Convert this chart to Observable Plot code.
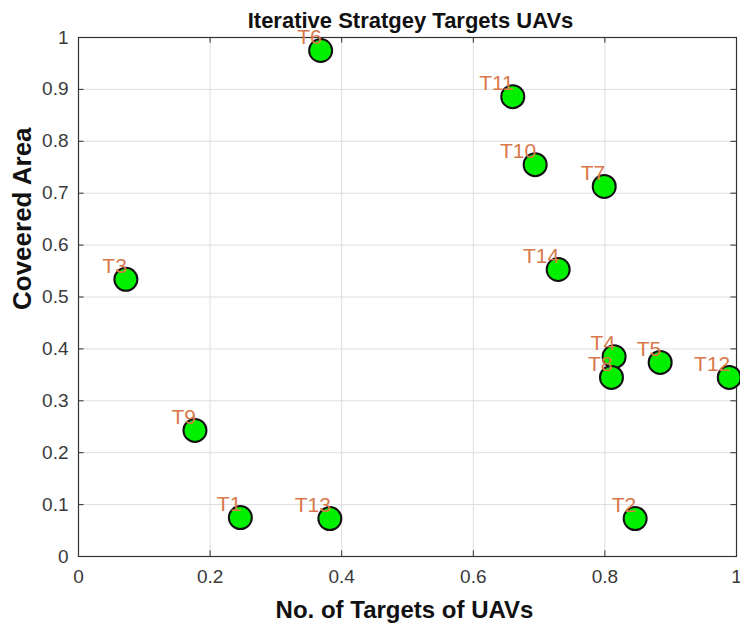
<!DOCTYPE html>
<html>
<head>
<meta charset="utf-8">
<script src="https://cdn.jsdelivr.net/npm/d3@7"></script>
<script src="https://cdn.jsdelivr.net/npm/@observablehq/plot@0.6"></script>
<style>
  html, body { margin: 0; padding: 0; background: white; }
</style>
</head>
<body>
<div id="chart"></div>
<script>
const names = ["T1","T2","T3","T4","T5","T6","T7","T8","T9","T10","T11","T12","T13","T14"];
const xValues = [0.246, 0.846, 0.072, 0.814, 0.884, 0.368, 0.799, 0.810, 0.177, 0.694, 0.660, 0.989, 0.382, 0.729];
const yValues = [0.075, 0.073, 0.534, 0.385, 0.374, 0.975, 0.713, 0.345, 0.243, 0.755, 0.886, 0.345, 0.073, 0.553];
const xTicks = [0, 0.2, 0.4, 0.6, 0.8, 1];
const xTickLabels = ["0", "0.2", "0.4", "0.6", "0.8", "1"];
const yTicks = [0, 0.1, 0.2, 0.3, 0.4, 0.5, 0.6, 0.7, 0.8, 0.9, 1];
const yTickLabels = ["0", "0.1", "0.2", "0.3", "0.4", "0.5", "0.6", "0.7", "0.8", "0.9", "1"];
const titleText = "Iterative Stratgey Targets UAVs";
const xLabel = "No. of Targets of UAVs";
const yLabel = "Coveered Area";

const data = names.map((n, i) => ({name: n, x: xValues[i], y: yValues[i]}));
const xFmt = d => xTickLabels[xTicks.indexOf(d)];
const yFmt = d => yTickLabels[yTicks.indexOf(d)];

const chart = Plot.plot({
  width: 740,
  height: 631,
  marginLeft: 78,
  marginRight: 4,
  marginTop: 37,
  marginBottom: 75,
  x: {domain: [0, 1]},
  y: {domain: [0, 1]},
  style: {fontFamily: "'Liberation Sans', Arial, sans-serif", background: "white", overflow: "visible"},
  marks: [
    Plot.gridX(xTicks, {stroke: "#dedede", strokeOpacity: 1}),
    Plot.gridY(yTicks, {stroke: "#dedede", strokeOpacity: 1}),
    Plot.axisX(xTicks, {tickSize: 0, tickPadding: 13, tickFormat: xFmt, fontSize: 19, fill: "#3a3a3a", label: null}),
    Plot.axisY(yTicks, {tickSize: 0, tickPadding: 10, tickFormat: yFmt, fontSize: 19, fill: "#3a3a3a", label: null}),
    // inward ticks (all four sides)
    Plot.ruleX(xTicks, {y1: 0, y2: 0.011, stroke: "#333"}),
    Plot.ruleX(xTicks, {y1: 1, y2: 0.989, stroke: "#333"}),
    Plot.ruleY(yTicks, {x1: 0, x2: 0.0085, stroke: "#333"}),
    Plot.ruleY(yTicks, {x1: 1, x2: 0.9915, stroke: "#333"}),
    Plot.frame({stroke: "#333", strokeWidth: 1.2}),
    Plot.dot(data, {x: "x", y: "y", r: 11.5, fill: "#00f000", stroke: "#111", strokeWidth: 2}),
    Plot.text(data, {x: "x", y: "y", text: "name", textAnchor: "end", lineAnchor: "middle", dx: 1, dy: -13, fontSize: 21, fill: "#d9784a"}),
    Plot.text([titleText], {frameAnchor: "top", lineAnchor: "middle", dy: -17, dx: 3, text: d => d, fontSize: 22, fontWeight: "bold", fill: "#111"}),
    Plot.text([xLabel], {frameAnchor: "bottom", lineAnchor: "middle", dy: 54, dx: -3, text: d => d, fontSize: 24, fontWeight: "bold", fill: "#111"}),
    Plot.text([yLabel], {frameAnchor: "left", dx: -56, dy: 13, rotate: -90, text: d => d, fontSize: 26, fontWeight: "bold", fill: "#111"})
  ]
});
document.getElementById("chart").appendChild(chart);
</script>
</body>
</html>
